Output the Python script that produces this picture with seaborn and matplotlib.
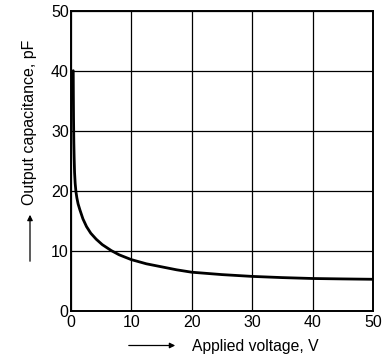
import matplotlib
matplotlib.use("Agg")
import matplotlib.pyplot as plt
import seaborn as sns
import pandas as pd

# Output capacitance versus applied voltage
voltage = [0.40, 0.42, 0.45, 0.50, 0.55, 0.62, 0.72, 0.85, 1.0, 1.2, 1.5, 2.0, 2.6,
           3.3, 4.2, 5.2, 6.7, 8.0, 10.0, 12.5, 15.0, 17.5, 20.0, 25.0, 30.0,
           35.0, 40.0, 45.0, 50.0]
capacitance = [40.0, 36.0, 32.0, 28.0, 25.5, 23.0, 21.2, 19.8, 18.8, 17.8, 16.8, 15.3, 14.0,
               12.9, 11.9, 11.0, 10.0, 9.3, 8.5, 7.8, 7.3, 6.8, 6.4, 6.0, 5.7,
               5.5, 5.35, 5.28, 5.22]
ticks = [0, 10, 20, 30, 40, 50]

df = pd.DataFrame({"V": voltage, "C": capacitance})

sns.set_theme(style="white")
plt.rcParams["font.family"] = ["Liberation Sans", "DejaVu Sans"]

fig = plt.figure(figsize=(3.87, 3.57), dpi=100)
ax = fig.add_axes([0.183, 0.130, 0.781, 0.840])

sns.lineplot(data=df, x="V", y="C", ax=ax, color="black", linewidth=2.0,
             sort=False, estimator=None)

ax.set_xlim(0, 50)
ax.set_ylim(0, 50)
ax.set_xticks(ticks)
ax.set_yticks(ticks)
ax.set_xticklabels([str(t) for t in ticks], fontsize=11.5)
ax.set_yticklabels([str(t) for t in ticks], fontsize=11.5)
ax.tick_params(axis="both", length=0, colors="black")
ax.tick_params(axis="x", pad=3)
ax.tick_params(axis="y", pad=1.5)
ax.grid(True, color="black", linewidth=0.9)
for s in ax.spines.values():
    s.set_color("black")
    s.set_linewidth(1.4)
ax.set_xlabel("")
ax.set_ylabel("")

# Axis titles with direction arrows
fig.text(192 / 387, 1 - 346 / 357, "Applied voltage, V", fontsize=11.3,
         ha="left", va="center", color="black")
fig.add_artist(matplotlib.patches.FancyArrowPatch(
    (126 / 387, 1 - 345.5 / 357), (178 / 387, 1 - 345.5 / 357),
    transform=fig.transFigure, arrowstyle="-|>", mutation_scale=8,
    color="black", linewidth=0.9))

fig.text(30 / 387, 1 - 205 / 357, "Output capacitance, pF", fontsize=11.5,
         rotation=90, ha="center", va="bottom", color="black")
fig.add_artist(matplotlib.patches.FancyArrowPatch(
    (30 / 387, 1 - 264 / 357), (30 / 387, 1 - 212 / 357),
    transform=fig.transFigure, arrowstyle="-|>", mutation_scale=8,
    color="black", linewidth=0.9))

fig.savefig("out.png", dpi=100)
